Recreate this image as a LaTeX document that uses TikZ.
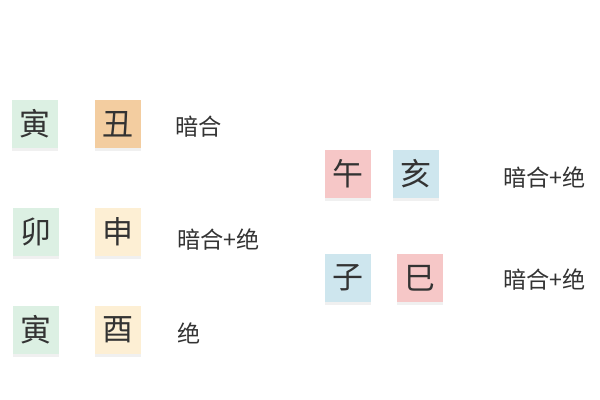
\documentclass[tikz,border=0pt]{standalone}
\usepackage{fontspec}
\setmainfont{Noto Sans CJK SC}
\usetikzlibrary{shadows}

\definecolor{mintbox}{HTML}{DCF0E3}
\definecolor{orangebox}{HTML}{F3CDA0}
\definecolor{creambox}{HTML}{FDEFD4}
\definecolor{pinkbox}{HTML}{F6C7C7}
\definecolor{bluebox}{HTML}{CEE6EE}
\definecolor{inktext}{HTML}{333333}

\begin{document}
\begin{tikzpicture}[x=0.025cm, y=-0.025cm]
    % Setup the styles for the boxes and labels
        \tikzset{branch/.style={minimum width=1.15cm,
                                minimum height=1.22cm,
                                inner sep=0pt,
                                text=inktext,
                                font=\fontsize{22pt}{22pt}\selectfont,
                                drop shadow={shadow xshift=0pt,
                                             shadow yshift=-0.6mm,
                                             opacity=0.12}},
                 relation/.style={anchor=west,
                                  inner sep=0pt,
                                  text=inktext,
                                  font=\fontsize{16.5pt}{16.5pt}\selectfont}}
        \useasboundingbox (0, 0) rectangle (600, 400);
        % Left pairs
        \node[branch, fill=mintbox] at (35, 124)    (yinA) {寅};
        \node[branch, fill=orangebox] at (118, 124) (chou) {丑};
        \node[relation] at (175, 127)               (relA) {暗合};
        \node[branch, fill=mintbox] at (36, 232)    (mao) {卯};
        \node[branch, fill=creambox] at (118, 232)  (shen) {申};
        \node[relation] at (177, 240)               (relB) {暗合+绝};
        \node[branch, fill=mintbox] at (36, 330)    (yinB) {寅};
        \node[branch, fill=creambox] at (118, 330)  (you) {酉};
        \node[relation] at (177, 333)               (relC) {绝};
        % Right pairs
        \node[branch, fill=pinkbox] at (348, 174)   (wu) {午};
        \node[branch, fill=bluebox] at (416, 174)   (hai) {亥};
        \node[relation] at (503, 178)               (relD) {暗合+绝};
        \node[branch, fill=bluebox] at (348, 278)   (zi) {子};
        \node[branch, fill=pinkbox] at (420, 278)   (si) {巳};
        \node[relation] at (503, 280)               (relE) {暗合+绝};
\end{tikzpicture}
\end{document}
